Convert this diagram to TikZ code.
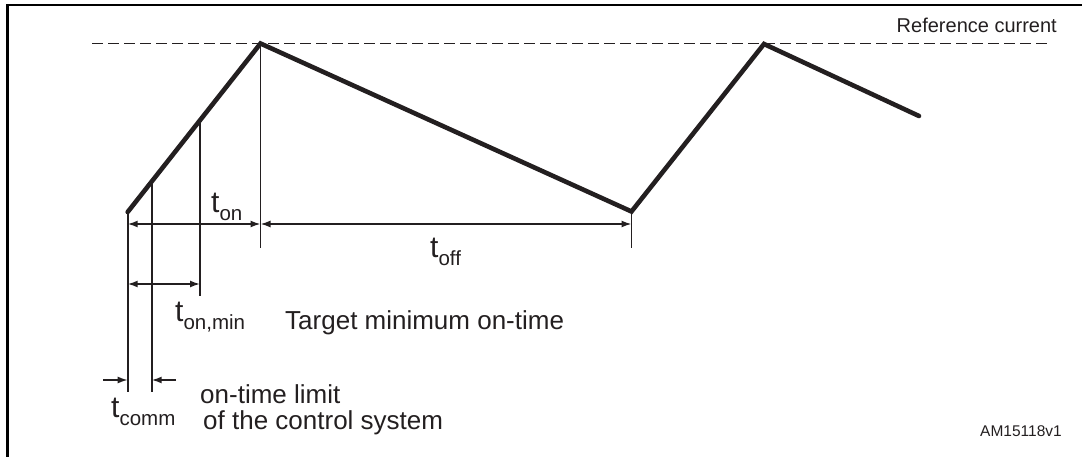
\documentclass[tikz,border=0pt]{standalone}
\usepackage{fontspec}
\setmainfont{Liberation Sans}
\usetikzlibrary{arrows.meta}
\definecolor{ink}{RGB}{35,31,32}
\newcommand\tsub[1]{{\fontsize{30}{30}\selectfont t}\raisebox{-8pt}{\fontsize{20.5}{20.5}\selectfont #1}}
\begin{document}
\begin{tikzpicture}[x=1pt,y=-1pt, color=ink,
  frame/.style={line width=2.6pt, draw=black},
  wave/.style={line width=4.6pt, line cap=round, line join=miter},
  thin/.style={line width=1.6pt},
  tip/.tip={Latex[length=10pt,width=7pt]},
  dim/.style={thin, tip-tip},
  oneway/.style={thin, -tip},
  refline/.style={line width=1.6pt, dash pattern=on 11pt off 5pt},
  lab/.style={inner sep=0pt, anchor=base west, font=\fontsize{26}{30}\selectfont},
  tlab/.style={inner sep=0pt, anchor=base west}]
\useasboundingbox (0,0) rectangle (1082,457);
% frame
\coordinate (fbl) at (7.5,457);
\coordinate (ftl) at (7.5,5);
\coordinate (ftr) at (1082,5);
\draw[frame] (fbl) -- (ftl) -- (ftr);
% reference line
\coordinate (r0) at (92,43.5);
\coordinate (r1) at (1052,43.5);
\draw[refline] (r0) -- (r1);
\node[inner sep=0pt, anchor=base east, font=\fontsize{20}{24}\selectfont] (ref) at (1057,33) {Reference current};
% waveform
\coordinate (s) at (127.7,212);
\coordinate (p1) at (260.5,43.5);
\coordinate (v) at (631.5,211.5);
\coordinate (p2) at (764,44);
\coordinate (e) at (919,116);
\draw[wave] (s) -- (p1) -- (v) -- (p2) -- (e);
% vertical markers
\coordinate (sb) at (127.7,392);
\coordinate (c1) at (151.7,181);
\coordinate (c1b) at (151.7,392);
\coordinate (m1) at (200,120);
\coordinate (m1b) at (200,296);
\coordinate (p1b) at (260.5,248);
\coordinate (vb) at (631.5,248);
\draw[thin] (s) -- (sb);
\draw[thin] (c1) -- (c1b);
\draw[thin] (m1) -- (m1b);
\draw[thin] (p1) -- (p1b);
\draw[thin] (v) -- (vb);
% dimension arrows
\coordinate (a0) at (127.7,224);
\coordinate (a1) at (260.5,224);
\coordinate (a2) at (631.5,224);
\draw[dim] (a0) -- (a1);
\draw[dim] (a1) -- (a2);
\coordinate (b0) at (127.7,284);
\coordinate (b1) at (200,284);
\draw[dim] (b0) -- (b1);
\coordinate (k0) at (103,380);
\coordinate (k1) at (127.7,380);
\coordinate (k2) at (151.7,380);
\coordinate (k3) at (176,380);
\draw[oneway] (k0) -- (k1);
\draw[oneway] (k3) -- (k2);
% labels
\node[tlab] (ton) at (211,213) {\tsub{on}};
\node[tlab] (toff) at (430,258) {\tsub{off}};
\node[tlab] (tonmin) at (175,321) {\tsub{on,min}};
\node[tlab] (tcomm) at (111,417) {\tsub{comm}};
\node[lab] (target) at (285,329) {Target minimum on-time};
\node[lab] (lim1) at (200,403) {on-time limit};
\node[lab] (lim2) at (203,429) {of the control system};
\node[inner sep=0pt, anchor=base east, font=\fontsize{15.5}{18}\selectfont] (am) at (1062,436) {AM15118v1};
\end{tikzpicture}
\end{document}
